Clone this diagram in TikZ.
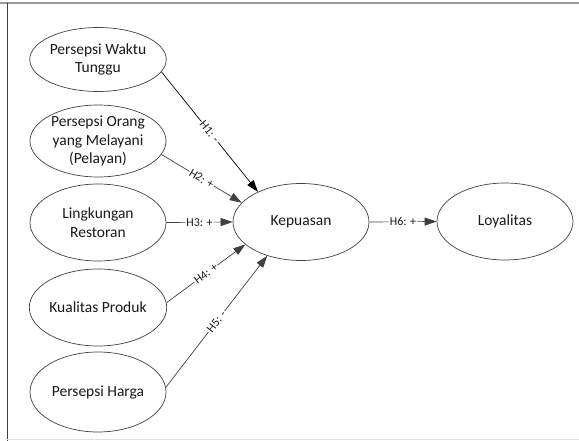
\documentclass[tikz,border=0pt]{standalone}
\usepackage{fontspec}
\setmainfont{Carlito}
\usetikzlibrary{arrows.meta,shapes.geometric}
\definecolor{edgegray}{HTML}{404040}
\definecolor{framegray}{HTML}{9A9A9A}
\definecolor{framelight}{HTML}{E0E0E0}
\tikzset{
  var/.style={ellipse, draw=edgegray, line width=0.7pt, fill=white, minimum width=136pt, inner sep=0pt, align=center, font=\fontsize{15.5}{18.5}\selectfont, text=black!90},
  path/.style={draw=edgegray, line width=0.7pt, -{Triangle[length=12pt,width=8pt]}},
  hlab/.style={sloped, fill=white, inner sep=1pt, font=\fontsize{12}{14}\selectfont, text=black!90}
}
\begin{document}
\begin{tikzpicture}[x=1pt,y=-1pt]
\useasboundingbox (0,0) rectangle (579,441);
% frame
\draw[framegray, line width=1.6pt] (0,3) -- (579,3);
\draw[edgegray, line width=0.8pt] (7,3) -- (7,441);
\draw[framelight, line width=1pt] (7,439.5) -- (579,439.5);
% nodes
\node[var, minimum height=64pt] (e1) at (98,59.5) {Persepsi Waktu\\Tunggu};
\node[var, minimum height=72pt] (e2) at (98,141) {Persepsi Orang\\yang Melayani\\(Pelayan)};
\node[var, minimum height=77pt] (e3) at (98,222.5) {Lingkungan\\Restoran};
\node[var, minimum height=77pt] (e4) at (98,307.5) {Kualitas Produk};
\node[var, minimum height=80pt] (e5) at (98,392) {Persepsi Harga};
\node[var, minimum height=77pt] (kep) at (301,222) {Kepuasan};
\node[var, minimum height=77pt] (loy) at (505,221.5) {Loyalitas};
% connectors
\draw[path, draw=black, -{Triangle[length=12pt,width=8pt]}] (e1.-11) -- node[hlab]{H1: -} (kep.145);
\draw[path] (e2.-12) -- node[hlab]{H2: +} (kep.162);
\draw[path] (e3.east) -- node[hlab]{H3: +} (kep.west);
\draw[path] (e4.4) -- node[hlab]{H4: +} (kep.-158);
\draw[path] (e5.4) -- node[hlab]{H5: -} (kep.225);
\draw[path] (kep.east) -- node[hlab]{H6: +} (loy.west);
\end{tikzpicture}
\end{document}
